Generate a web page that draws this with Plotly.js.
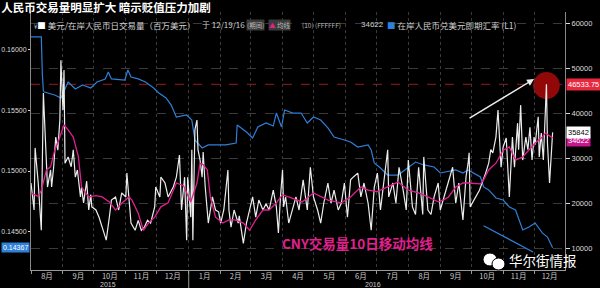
<!DOCTYPE html>
<html><head><meta charset="utf-8">
<script src="https://cdn.plot.ly/plotly-3.0.1.min.js"></script>
<style>html,body{margin:0;padding:0;background:#000;}#chart{width:600px;height:288px;}</style>
</head><body><div id="chart"></div>
<script>
// ---- data ----
const volDates = ['2015-08-01','2015-08-04','2015-08-05','2015-08-08','2015-08-11','2015-08-13','2015-08-17','2015-08-20','2015-08-21','2015-08-23','2015-08-25','2015-08-27','2015-08-29','2015-08-30','2015-09-01','2015-09-02','2015-09-03','2015-09-06','2015-09-09','2015-09-11','2015-09-13','2015-09-15','2015-09-18','2015-09-19','2015-09-21','2015-09-24','2015-09-26','2015-09-28','2015-09-29','2015-10-03','2015-10-06','2015-10-09','2015-10-13','2015-10-16','2015-10-18','2015-10-22','2015-10-25','2015-10-28','2015-11-01','2015-11-02','2015-11-05','2015-11-06','2015-11-10','2015-11-13','2015-11-16','2015-11-19','2015-11-22','2015-11-25','2015-11-29','2015-11-30','2015-12-04','2015-12-05','2015-12-09','2015-12-12','2015-12-17','2015-12-20','2015-12-23','2015-12-25','2015-12-28','2015-12-30','2015-12-31','2016-01-03','2016-01-04','2016-01-05','2016-01-07','2016-01-09','2016-01-10','2016-01-12','2016-01-14','2016-01-15','2016-01-17','2016-01-19','2016-01-20','2016-01-24','2016-01-27','2016-01-30','2016-02-01','2016-02-04','2016-02-08','2016-02-09','2016-02-11','2016-02-14','2016-02-18','2016-02-19','2016-02-23','2016-02-26','2016-02-29','2016-03-03','2016-03-06','2016-03-09','2016-03-13','2016-03-16','2016-03-19','2016-03-23','2016-03-26','2016-03-28','2016-03-30','2016-04-01','2016-04-02','2016-04-04','2016-04-07','2016-04-11','2016-04-14','2016-04-17','2016-04-19','2016-04-21','2016-04-25','2016-04-28','2016-05-01','2016-05-05','2016-05-08','2016-05-11','2016-05-15','2016-05-18','2016-05-21','2016-05-25','2016-05-28','2016-05-31','2016-06-03','2016-06-06','2016-06-09','2016-06-13','2016-06-16','2016-06-19','2016-06-23','2016-06-26','2016-06-29','2016-07-02','2016-07-05','2016-07-08','2016-07-12','2016-07-13','2016-07-17','2016-07-20','2016-07-23','2016-07-27','2016-07-30','2016-08-01','2016-08-05','2016-08-08','2016-08-11','2016-08-15','2016-08-16','2016-08-20','2016-08-23','2016-08-26','2016-08-30','2016-09-01','2016-09-06','2016-09-09','2016-09-13','2016-09-16','2016-09-19','2016-09-23','2016-09-26','2016-09-28','2016-09-29','2016-09-30','2016-10-09','2016-10-15','2016-10-18','2016-10-20','2016-10-22','2016-10-25','2016-10-27','2016-10-30','2016-11-01','2016-11-04','2016-11-06','2016-11-07','2016-11-10','2016-11-12','2016-11-15','2016-11-16','2016-11-18','2016-11-20','2016-11-23','2016-11-25','2016-11-27','2016-11-29','2016-12-01','2016-12-02','2016-12-05','2016-12-06','2016-12-08','2016-12-10','2016-12-13','2016-12-14','2016-12-16','2016-12-19'];
const volValues = [24600,18600,32400,24600,14100,44600,23700,27500,23700,28200,34800,31900,38600,51900,40800,49700,29000,30400,28200,32000,25900,27500,21500,23700,20200,25000,18600,22000,19300,18600,17000,14800,11900,17000,20800,21500,18600,22400,21500,26800,18600,15700,14100,16300,14100,14800,16300,15700,19300,23700,21500,25900,24600,21500,23700,25900,30800,18600,25900,11900,25900,17000,32000,11900,36400,38600,32000,29700,25900,31500,23700,18600,15700,21500,18600,18200,15700,18600,27500,18600,14800,18600,15700,17300,11200,15700,18600,21500,17000,20800,18600,20000,18600,23000,19300,13500,21500,27500,19300,21500,15700,19300,21500,18600,21600,25300,18600,28100,21500,18600,15700,20100,24600,20100,23000,18600,20100,24600,17000,25300,26000,26800,21500,24600,20100,14100,23700,26800,18600,24600,32000,21500,24600,20100,28100,23000,18600,29700,19300,17600,28100,17600,30400,18600,17600,21500,24600,18600,22700,24600,28100,20100,24600,16400,26000,29000,31300,19300,23000,26800,29000,32000,31300,34800,40800,28100,32600,34600,26000,21500,34800,28100,37900,32000,41900,29700,34800,32000,37000,29700,34800,33100,39300,30400,35700,29700,46534,33500,24600,35842];

const maDates = ['2015-08-01','2015-08-08','2015-08-11','2015-08-16','2015-08-20','2015-08-24','2015-08-27','2015-08-30','2015-09-02','2015-09-06','2015-09-11','2015-09-16','2015-09-19','2015-09-26','2015-10-03','2015-10-09','2015-10-16','2015-10-22','2015-10-28','2015-11-04','2015-11-07','2015-11-13','2015-11-18','2015-11-23','2015-11-29','2015-12-05','2015-12-12','2015-12-20','2015-12-27','2016-01-03','2016-01-09','2016-01-12','2016-01-15','2016-01-19','2016-01-22','2016-01-27','2016-02-03','2016-02-09','2016-02-15','2016-02-23','2016-02-29','2016-03-06','2016-03-13','2016-03-19','2016-03-26','2016-04-01','2016-04-07','2016-04-14','2016-04-20','2016-05-01','2016-05-15','2016-05-28','2016-06-06','2016-06-16','2016-06-23','2016-07-02','2016-07-12','2016-07-22','2016-08-01','2016-08-11','2016-08-20','2016-08-30','2016-09-04','2016-09-09','2016-09-16','2016-09-23','2016-09-28','2016-10-10','2016-10-13','2016-10-18','2016-10-25','2016-11-01','2016-11-07','2016-11-13','2016-11-20','2016-11-26','2016-12-02','2016-12-09','2016-12-12','2016-12-19'];
const maValues = [22400,21600,23000,27500,28200,31900,33500,35700,37500,36400,34800,30400,23700,21500,21800,21500,20400,18600,20100,21500,20800,17900,14100,15700,17000,19300,20200,24600,24000,20400,24600,29000,28700,27500,21500,17000,15700,16400,16400,15700,14100,16400,18600,18600,20200,22000,21500,20800,20400,22400,20800,20200,21500,23700,23000,22700,23700,24800,23000,22400,21500,20400,20800,21500,23700,24600,24600,24400,25300,27500,29000,31900,32600,29700,30400,31900,33500,34800,35700,34622];

const fxDates = ['2015-08-01','2015-08-11','2015-08-12','2015-08-13','2015-08-14','2015-08-24','2015-08-30','2015-09-06','2015-09-13','2015-09-20','2015-09-28','2015-10-04','2015-10-12','2015-10-15','2015-10-18','2015-10-26','2015-10-31','2015-11-03','2015-11-06','2015-11-13','2015-11-20','2015-11-28','2015-12-03','2015-12-10','2015-12-15','2015-12-20','2015-12-30','2016-01-04','2016-01-07','2016-01-14','2016-01-20','2016-02-06','2016-02-16','2016-02-17','2016-02-26','2016-03-03','2016-03-08','2016-03-16','2016-03-23','2016-03-26','2016-03-31','2016-04-03','2016-04-11','2016-04-19','2016-04-25','2016-05-01','2016-05-08','2016-05-15','2016-05-21','2016-05-31','2016-06-06','2016-06-13','2016-06-23','2016-06-26','2016-06-29','2016-07-05','2016-07-12','2016-07-22','2016-08-01','2016-08-08','2016-08-16','2016-08-26','2016-09-01','2016-09-06','2016-09-16','2016-09-23','2016-09-28','2016-10-10','2016-10-13','2016-10-18','2016-10-25','2016-11-01','2016-11-07','2016-11-13','2016-11-20','2016-11-26','2016-12-02','2016-12-09','2016-12-14','2016-12-19'];
const fxValues = [0.16105,0.16105,0.1580,0.1566,0.15651,0.15627,0.15602,0.15734,0.15676,0.1571,0.15684,0.15734,0.15759,0.15816,0.15759,0.1575,0.1575,0.15833,0.15775,0.15759,0.15734,0.15684,0.15643,0.15602,0.15544,0.15445,0.15462,0.1542,0.15256,0.1519,0.15215,0.15215,0.15231,0.15379,0.15322,0.15272,0.15363,0.15396,0.15371,0.15478,0.15363,0.15503,0.15478,0.15478,0.15396,0.15445,0.1542,0.15355,0.1528,0.15256,0.15239,0.15198,0.15215,0.15173,0.15066,0.15025,0.14967,0.14967,0.15033,0.15074,0.1505,0.15033,0.14984,0.14992,0.15009,0.14984,0.15009,0.14951,0.14869,0.14844,0.14778,0.14761,0.14704,0.14679,0.14514,0.14539,0.14572,0.1449,0.14456,0.14367];

const leftTicks = [0.145, 0.150, 0.155, 0.160];
const rightTicks = [10000, 20000, 30000, 40000, 50000, 60000];
const yearLabels = ['2015', '2016'];
const peakVol = 46533.75, lastVol = 35842, lastMA = 34622, lastFx = 0.14367;

// ---- layout helpers (pixel -> paper) ----
const W = 600, H = 288, L = 31, R = 35, T = 12, B = 18;
const pw = W - L - R, ph = H - T - B;
const px = x => (x - L) / pw;
const py = y => (H - B - y) / ph;
const CJK = '"Noto Sans CJK SC", "Liberation Sans", sans-serif';
const NUM = '"Liberation Sans", "DejaVu Sans", sans-serif';

const traces = [
  {x: fxDates, y: fxValues, yaxis: 'y', type: 'scatter', mode: 'lines',
   line: {color: '#2f7fd8', width: 1.2}},
  {x: volDates, y: volValues, yaxis: 'y2', type: 'scatter', mode: 'lines',
   line: {color: '#ececec', width: 1.2}},
  {x: maDates, y: maValues, yaxis: 'y2', type: 'scatter', mode: 'lines',
   line: {color: '#e0208f', width: 1.3}}
];

const legendFont = {family: CJK, size: 8.5, color: '#cfcfcf'};
const smallFont = {family: CJK, size: 6.5, color: '#bbbbbb'};
const annotations = [
  // legend row
  {xref:'paper', yref:'paper', x:px(32), y:py(25), xanchor:'left', yanchor:'middle', showarrow:false,
   text:'<span style="font-size:6px">¥</span><span style="color:#ffffff">■</span> 美元/在岸人民币日交易量（百万美元）', font: legendFont},
  {xref:'paper', yref:'paper', x:px(200), y:py(25), xanchor:'left', yanchor:'middle', showarrow:false,
   text:'于 12/19/16', font:{family:CJK, size:8, color:'#cfcfcf'}},
  {xref:'paper', yref:'paper', x:px(246), y:py(25), xanchor:'left', yanchor:'middle', showarrow:false,
   text:'(期间)', bgcolor:'#3a3a3a', borderpad:0, font:smallFont},
  {xref:'paper', yref:'paper', x:px(268), y:py(25), xanchor:'left', yanchor:'middle', showarrow:false,
   text:'<span style="color:#e0208f">▲</span> 均线', bgcolor:'#3a3a3a', borderpad:0, font:smallFont},
  {xref:'paper', yref:'paper', x:px(300), y:py(25), xanchor:'left', yanchor:'middle', showarrow:false,
   text:'(10) (FFFFFF)', font:smallFont},
  {xref:'paper', yref:'paper', x:px(359), y:py(25), xanchor:'left', yanchor:'middle', showarrow:false,
   text:String(lastMA), font:{family:NUM, size:8, color:'#cfcfcf'}},
  {xref:'paper', yref:'paper', x:px(385), y:py(25), xanchor:'left', yanchor:'middle', showarrow:false,
   text:'<span style="color:#2f80d8">■</span> 在岸人民币兑美元即期汇率 (L1)', font: legendFont},
  // magenta caption
  {xref:'paper', yref:'paper', x:px(357), y:py(242.5), xanchor:'center', yanchor:'middle', showarrow:false,
   text:'<b>CNY交易量10日移动均线</b>', font:{family:CJK, size:13.5, color:'#e0208f'}},
  // watermark
  {xref:'paper', yref:'paper', x:px(507), y:py(259.5), xanchor:'left', yanchor:'middle', showarrow:false,
   text:'华尔街情报', font:{family:CJK, size:13.5, color:'#ffffff'}},
  // year labels
  {xref:'x', yref:'paper', x:'2015-10-15', y:py(284), xanchor:'center', yanchor:'middle', showarrow:false,
   text:yearLabels[0], font:{family:NUM, size:7, color:'#cccccc'}},
  {xref:'x', yref:'paper', x:'2016-06-28', y:py(284), xanchor:'center', yanchor:'middle', showarrow:false,
   text:yearLabels[1], font:{family:NUM, size:7, color:'#cccccc'}},
  // arrows
  {xref:'x', yref:'y2', x:'2016-12-01', y:47700, ax:-66, ay:40, showarrow:true, arrowhead:2,
   arrowsize:1, arrowwidth:1.4, arrowcolor:'#eeeeee', text:''},
  {xref:'x', yref:'y2', x:'2016-11-30', y:9267, ax:-51, ay:-27, showarrow:true, arrowhead:0,
   arrowwidth:1.2, arrowcolor:'#2f80d8', text:''},
  // value tags
  {xref:'paper', yref:'y2', x:1, y:peakVol, xanchor:'left', yanchor:'middle', xshift:1, showarrow:false,
   text:String(peakVol), bgcolor:'#e8283c', borderpad:1, font:{family:NUM, size:7.5, color:'#ffffff'}},
  {xref:'paper', yref:'y2', x:1, y:lastMA, xanchor:'left', yanchor:'middle', xshift:1, yshift:-3, showarrow:false,
   text:String(lastMA), bgcolor:'#c8168c', borderpad:1, font:{family:NUM, size:7.5, color:'#ffffff'}},
  {xref:'paper', yref:'y2', x:1, y:lastVol, xanchor:'left', yanchor:'middle', xshift:1, showarrow:false,
   text:String(lastVol), bgcolor:'#ffffff', borderpad:1, font:{family:NUM, size:7.5, color:'#000000'}},
  {xref:'paper', yref:'y', x:0, y:lastFx, xanchor:'right', yanchor:'middle', xshift:-1, showarrow:false,
   text:lastFx.toFixed(5), bgcolor:'#2f80d8', borderpad:1, font:{family:NUM, size:7, color:'#ffffff'}}
];

const shapes = [
  {type:'line', xref:'paper', yref:'y2', x0:0, x1:1, y0:peakVol, y1:peakVol, layer:'below',
   line:{color:'#9a1a1a', width:1, dash:'dash'}},
  {type:'circle', xref:'x', yref:'y2', x0:'2016-11-30', x1:'2016-12-26', y0:43260, y1:49270, layer:'below',
   fillcolor:'#920808', line:{width:0}},
  {type:'line', xref:'x', yref:'paper', x0:'2016-01-01', x1:'2016-01-01', y0:0, y1:-0.07,
   line:{color:'#999999', width:1}},
  // wechat icon bubbles
  {type:'circle', xref:'paper', yref:'paper', x0:px(483), x1:px(497), y0:py(266), y1:py(253),
   fillcolor:'#ffffff', line:{color:'#000000', width:1}},
  {type:'circle', xref:'paper', yref:'paper', x0:px(492), x1:px(505), y0:py(270), y1:py(258),
   fillcolor:'#ffffff', line:{color:'#000000', width:1}}
];

const layout = {
  width: W, height: H,
  margin: {l: L, r: R, t: T, b: B, pad: 0},
  paper_bgcolor: '#000000', plot_bgcolor: 'rgba(0,0,0,0)',
  showlegend: false, hovermode: false,
  title: {text:'<b>人民币交易量明显扩大 暗示贬值压力加剧</b>', xref:'container', yref:'container',
          x:0.002, xanchor:'left', y:1 - 8/H, yanchor:'middle',
          font:{family:CJK, size:11.5, color:'#ffffff'}},
  xaxis: {type:'date', range:['2015-08-01','2016-12-31'], tick0:'2015-08-01', dtick:'M1',
          ticklabelmode:'period', tickformat:'%-m月', ticks:'outside', ticklen:3, tickcolor:'#999',
          ticklabelstandoff:-4,
          showline:true, linecolor:'#999', linewidth:1, showgrid:true, gridcolor:'#3a3a3a', griddash:'dot',
          zeroline:false, tickfont:{family:CJK, size:7.5, color:'#cccccc'}},
  yaxis: {range:[0.141843, 0.163107], tickvals:leftTicks, tickformat:'.5f', ticks:'outside', ticklen:2,
          tickcolor:'#dddddd', showline:true, linecolor:'#888', showgrid:false, zeroline:false,
          tickfont:{family:NUM, size:7, color:'#dddddd'}},
  yaxis2: {overlaying:'y', side:'right', range:[5267, 62600], tickvals:rightTicks, tickformat:'d',
           ticks:'outside', ticklen:4, tickcolor:'#dddddd', showline:true, linecolor:'#888',
           showgrid:true, gridcolor:'#3a3a3a', griddash:'dash', zeroline:false,
           tickfont:{family:NUM, size:7.5, color:'#dddddd'}},
  annotations: annotations,
  shapes: shapes
};

Plotly.newPlot('chart', traces, layout, {staticPlot:true, displayModeBar:false});
</script>
</body></html>
